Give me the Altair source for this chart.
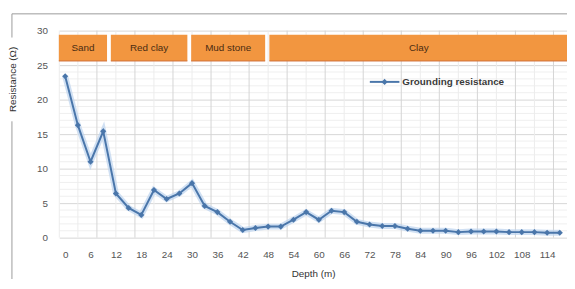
import altair as alt
import pandas as pd

# ---- data ----
depth = [0, 3, 6, 9, 12, 15, 18, 21, 24, 27, 30, 33, 36, 39, 42, 45, 48, 51, 54, 57,
         60, 63, 66, 69, 72, 75, 78, 81, 84, 87, 90, 93, 96, 99, 102, 105, 108, 111, 114, 117]
resistance = [23.4, 16.3, 11.0, 15.4, 6.4, 4.3, 3.3, 6.9, 5.6, 6.4, 7.9, 4.6, 3.7, 2.3, 1.1, 1.4,
              1.6, 1.6, 2.6, 3.7, 2.6, 3.9, 3.7, 2.3, 1.9, 1.7, 1.7, 1.3, 1.0, 1.0, 1.0, 0.8,
              0.9, 0.9, 0.9, 0.8, 0.8, 0.8, 0.7, 0.7]

x_ticks = [0, 6, 12, 18, 24, 30, 36, 42, 48, 54, 60, 66, 72, 78, 84, 90, 96, 102, 108, 114]
y_ticks = [0, 5, 10, 15, 20, 25, 30]

layer_names = ["Sand", "Red clay", "Mud stone", "Clay"]
layer_start = [-1.5, 10.8, 29.8, 48.3]
layer_end = [9.9, 28.9, 47.3, 119.0]
band_low = [25.6, 25.6, 25.6, 25.6]
band_high = [29.4, 29.4, 29.4, 29.4]

v_grid_major = [7.5, 16.5, 25.5, 34.5, 43.5, 52.5, 61.5, 70.5, 79.5, 88.5, 97.5, 106.5, 115.5]
v_grid_minor = [-1.4, 3, 12, 21, 30, 39, 48, 57, 66, 75, 84, 93, 102, 111]
h_grid_minor = [1, 2, 3, 4, 6, 7, 8, 9, 11, 12, 13, 14, 16, 17, 18, 19, 21, 22, 23, 24]

legend_label = ["Grounding resistance"]

FONT = "Liberation Sans"
LINE_COLOR = "#4a76aa"
X_DOMAIN = [-1.4, 118.7]

df = pd.DataFrame({"depth": depth, "resistance": resistance})
layers_df = pd.DataFrame({"name": layer_names, "start": layer_start, "end": layer_end,
                          "lo": band_low, "hi": band_high})
layers_df["mid"] = (layers_df["start"] + layers_df["end"]) / 2
layers_df["ymid"] = (layers_df["lo"] + layers_df["hi"]) / 2

xs = alt.Scale(domain=X_DOMAIN, nice=False, zero=False)
ys = alt.Scale(domain=[0, 30], nice=False)

ax_x = alt.Axis(values=x_ticks, grid=False, ticks=False, domain=False,
                labelPadding=12, labelFontSize=10, labelColor="#555555",
                labelFont=FONT, labelOverlap=False, labelFlush=False,
                title="Depth (m)", titleFont=FONT,
                titleFontSize=10, titleFontWeight="normal", titleColor="#333333",
                titleY=36, titleBaseline="middle")
ax_y = alt.Axis(values=y_ticks, grid=True, gridColor="#d6d6d6", ticks=False,
                domain=False, labelPadding=12, labelFontSize=10,
                labelColor="#555555", labelFont=FONT, labelOverlap=False,
                labelFlush=False,
                title="Resistance (Ω)", titleFont=FONT, titleFontSize=10,
                titleFontWeight="normal", titleColor="#333333",
                titleX=-47, titleY=49, titleAngle=270,
                titleAlign="center", titleBaseline="middle")


def X(field):
    return alt.X(field, scale=xs, axis=ax_x, title="Depth (m)")


def Y(field):
    return alt.Y(field, scale=ys, axis=ax_y, title="Resistance (Ω)")


base = alt.Chart(df)

minor_h = alt.Chart(pd.DataFrame({"v": h_grid_minor})).mark_rule(
    color="#efefef", strokeWidth=1).encode(y=Y("v:Q"))
minor_v = alt.Chart(pd.DataFrame({"v": v_grid_minor})).mark_rule(
    color="#ececec", strokeWidth=1).encode(x=X("v:Q"))
major_v = alt.Chart(pd.DataFrame({"v": v_grid_major})).mark_rule(
    color="#d4d4d4", strokeWidth=1).encode(x=X("v:Q"))

halo = base.mark_line(color="#bcd3ee", strokeWidth=6, opacity=0.7).encode(
    x=X("depth:Q"), y=Y("resistance:Q"))

line = base.mark_line(color=LINE_COLOR, strokeWidth=2).encode(
    x=X("depth:Q"), y=Y("resistance:Q"))

points = base.mark_point(shape="diamond", filled=True, size=38, color=LINE_COLOR,
                         opacity=1).encode(x=X("depth:Q"), y=Y("resistance:Q"))

band = alt.Chart(layers_df).mark_rect(color="#f29640").encode(
    x=X("start:Q"), x2="end:Q", y=Y("lo:Q"), y2="hi:Q")
band_line = alt.Chart(layers_df).mark_rule(color="#d0703a", strokeWidth=1).encode(
    x=X("start:Q"), x2="end:Q", y=Y("lo:Q"))
band_text = alt.Chart(layers_df).mark_text(
    font=FONT, fontSize=10, color="#4a2c12", baseline="middle").encode(
    x=X("mid:Q"), y=Y("ymid:Q"), text="name:N")

leg_df = pd.DataFrame({"label": legend_label})
leg_line = alt.Chart(leg_df).mark_rule(color=LINE_COLOR, strokeWidth=2).encode(
    x=alt.value(315), x2=alt.value(345), y=alt.value(52))
leg_pt = alt.Chart(leg_df).mark_point(shape="diamond", filled=True, size=38,
                                      color=LINE_COLOR, opacity=1).encode(
    x=alt.value(330), y=alt.value(52))
leg_txt = alt.Chart(leg_df).mark_text(
    font=FONT, fontSize=10, fontWeight="bold", color="#3a3a3a", align="left",
    baseline="middle").encode(x=alt.value(348), y=alt.value(52), text="label:N")

frame_df = pd.DataFrame({"a": [0]})
frame_top = alt.Chart(frame_df).mark_rule(color="#9a9a9a", strokeWidth=1).encode(
    x=alt.value(-48), x2=alt.value(520), y=alt.value(-17))
frame_left1 = alt.Chart(frame_df).mark_rule(color="#9a9a9a", strokeWidth=1).encode(
    x=alt.value(-48), y=alt.value(-17), y2=alt.value(7))
frame_left2 = alt.Chart(frame_df).mark_rule(color="#9a9a9a", strokeWidth=1).encode(
    x=alt.value(-48), y=alt.value(92), y2=alt.value(262))

chart = alt.layer(
    minor_h, minor_v, major_v, halo, line, points, band, band_line, band_text,
    leg_line, leg_pt, leg_txt, frame_top, frame_left1, frame_left2
).properties(
    width=515, height=210,
    padding={"left": 52, "top": 21, "right": 0, "bottom": 40},
    autosize=alt.AutoSizeParams(type="none"),
    background="white",
).configure_view(stroke=None)

chart.save("out.html", embed_options={"renderer": "svg", "actions": False})
